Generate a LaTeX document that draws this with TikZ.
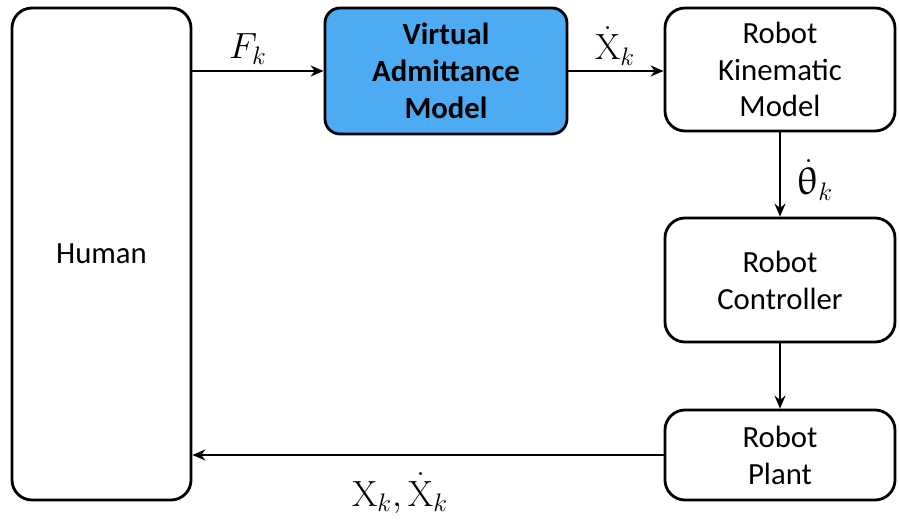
\documentclass[tikz,border=0pt]{standalone}
\usepackage{amsmath}
\usepackage{upgreek}
\usepackage[no-math]{fontspec}
\setmainfont{Carlito}
\usepackage{tikz}
\usetikzlibrary{arrows.meta}
\definecolor{admblue}{RGB}{77,171,243}
\tikzset{
    block/.style={draw,line width=1.6pt,rounded corners=0.4cm,align=center,
        font=\fontsize{17.5}{21}\selectfont},
    flow/.style={line width=1.3pt,-{Stealth[length=2.6mm,width=2.2mm]}},
    sig/.style={font=\fontsize{22}{24}\selectfont}
}
\begin{document}
\begin{tikzpicture}
\useasboundingbox (0,0) rectangle (17.98,-10.42);
% blocks
\node[block,minimum width=3.58cm,minimum height=9.84cm] (human) at (2.03,-5.08) {Human};
\node[block,fill=admblue,minimum width=4.84cm,minimum height=2.52cm,rounded corners=0.3cm] (vam) at (8.92,-1.42) {\textbf{Virtual}\\\textbf{Admittance}\\\textbf{Model}};
\node[block,minimum width=4.6cm,minimum height=2.46cm] (kin) at (15.6,-1.39) {Robot\\Kinematic\\Model};
\node[block,minimum width=4.6cm,minimum height=2.48cm] (ctrl) at (15.6,-5.6) {Robot\\Controller};
\node[block,minimum width=4.6cm,minimum height=1.8cm] (plant) at (15.6,-9.1) {Robot\\Plant};
% signals
\draw[flow] (human.east |- vam.west) -- (vam.west);
\draw[flow] (vam.east) -- (kin.west |- vam.east);
\draw[flow] (kin.south) -- (ctrl.north);
\draw[flow] (ctrl.south) -- (plant.north);
\draw[flow] (plant.west) -- (human.east |- plant.west);
\node[sig] (fk) at (4.96,-0.98) {$F_k$};
\node[sig] (xd) at (12.3,-0.92) {$\dot{\mathrm{X}}_k$};
\node[sig] (thd) at (16.3,-3.6) {$\dot{\uptheta}_k$};
\node[sig] (xs) at (8.0,-9.86) {$\mathrm{X}_k,\dot{\mathrm{X}}_k$};
\end{tikzpicture}
\end{document}
